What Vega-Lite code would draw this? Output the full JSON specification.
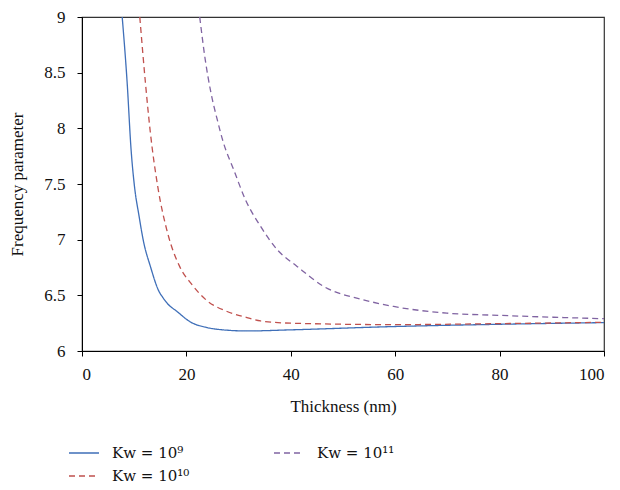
{
  "$schema": "https://vega.github.io/schema/vega-lite/v6.json",
  "width": 522,
  "height": 334,
  "autosize": "none",
  "padding": {"left": 82, "top": 17, "right": 16, "bottom": 139},
  "config": {
    "font": "Liberation Serif",
    "view": {"stroke": "#333", "strokeWidth": 1.2},
    "axis": {"grid": false, "domainColor": "#000", "tickColor": "#000", "labelColor": "#111", "titleColor": "#111", "labelFont": "Liberation Serif", "titleFont": "Liberation Serif", "labelFontSize": 17, "titleFontSize": 17, "titleFontWeight": "normal", "tickSize": 5}
  },
  "data": {"values": [
    {"t": 7.7, "f": 9.0, "k": "a"},
    {"t": 8.65, "f": 8.41, "k": "a"},
    {"t": 9.4, "f": 7.81, "k": "a"},
    {"t": 10.05, "f": 7.48, "k": "a"},
    {"t": 10.9, "f": 7.22, "k": "a"},
    {"t": 11.8, "f": 6.98, "k": "a"},
    {"t": 13.1, "f": 6.76, "k": "a"},
    {"t": 14.7, "f": 6.54, "k": "a"},
    {"t": 15.5, "f": 6.48, "k": "a"},
    {"t": 16.3, "f": 6.43, "k": "a"},
    {"t": 18.2, "f": 6.355, "k": "a"},
    {"t": 20.8, "f": 6.26, "k": "a"},
    {"t": 24.0, "f": 6.21, "k": "a"},
    {"t": 27.0, "f": 6.19, "k": "a"},
    {"t": 31.6, "f": 6.18, "k": "a"},
    {"t": 40, "f": 6.19, "k": "a"},
    {"t": 60, "f": 6.22, "k": "a"},
    {"t": 80, "f": 6.24, "k": "a"},
    {"t": 100, "f": 6.255, "k": "a"},
    {"t": 22.55, "f": 9.0, "k": "b"},
    {"t": 23.6, "f": 8.62, "k": "b"},
    {"t": 24.7, "f": 8.32, "k": "b"},
    {"t": 25.9, "f": 8.08, "k": "b"},
    {"t": 27.1, "f": 7.87, "k": "b"},
    {"t": 29.05, "f": 7.63, "k": "b"},
    {"t": 31.3, "f": 7.36, "k": "b"},
    {"t": 34.2, "f": 7.12, "k": "b"},
    {"t": 37.4, "f": 6.91, "k": "b"},
    {"t": 41.2, "f": 6.76, "k": "b"},
    {"t": 46.3, "f": 6.58, "k": "b"},
    {"t": 53.9, "f": 6.46, "k": "b"},
    {"t": 59.7, "f": 6.40, "k": "b"},
    {"t": 69.9, "f": 6.34, "k": "b"},
    {"t": 80, "f": 6.32, "k": "b"},
    {"t": 100, "f": 6.29, "k": "b"},
    {"t": 11.07, "f": 9.0, "k": "c"},
    {"t": 12.15, "f": 8.41, "k": "c"},
    {"t": 13.1, "f": 7.96, "k": "c"},
    {"t": 14.5, "f": 7.48, "k": "c"},
    {"t": 16.4, "f": 7.06, "k": "c"},
    {"t": 18.7, "f": 6.76, "k": "c"},
    {"t": 21.0, "f": 6.6, "k": "c"},
    {"t": 24.0, "f": 6.45, "k": "c"},
    {"t": 27.8, "f": 6.355, "k": "c"},
    {"t": 31.6, "f": 6.30, "k": "c"},
    {"t": 34.2, "f": 6.27, "k": "c"},
    {"t": 40, "f": 6.25, "k": "c"},
    {"t": 60, "f": 6.237, "k": "c"},
    {"t": 80, "f": 6.246, "k": "c"},
    {"t": 100, "f": 6.258, "k": "c"}
  ]},
  "mark": {"type": "line", "strokeWidth": 1.3, "interpolate": "monotone", "clip": true},
  "encoding": {
    "x": {"field": "t", "type": "quantitative", "scale": {"domain": [0, 100], "nice": false}, "axis": {"values": [0, 20, 40, 60, 80, 100], "title": "Thickness (nm)", "labelPadding": 10, "titlePadding": 16}},
    "y": {"field": "f", "type": "quantitative", "scale": {"domain": [6, 9], "nice": false, "zero": false}, "axis": {"values": [6, 6.5, 7, 7.5, 8, 8.5, 9], "format": "~f", "title": "Frequency parameter", "labelPadding": 12, "titlePadding": 17}},
    "color": {"field": "k", "type": "nominal",
      "scale": {"domain": ["a", "c", "b"], "range": ["#3f6fb8", "#c0504d", "#8064a2"]},
      "legend": {"orient": "none", "legendX": -14, "legendY": 426, "columns": 2, "symbolType": "stroke", "symbolSize": 900, "symbolStrokeWidth": 1.5, "clipHeight": 20, "labelFontSize": 15, "labelFont": "DejaVu Serif", "labelColor": "#111", "labelOffset": 12, "columnPadding": 83, "rowPadding": 3, "title": null,
        "labelExpr": "datum.value == 'a' ? 'Kw = 10⁹' : datum.value == 'b' ? 'Kw = 10¹¹' : 'Kw = 10¹⁰'"}},
    "strokeDash": {"field": "k", "type": "nominal",
      "scale": {"domain": ["a", "c", "b"], "range": [[1, 0], [6, 4], [6, 4]]},
      "legend": null}
  }
}
